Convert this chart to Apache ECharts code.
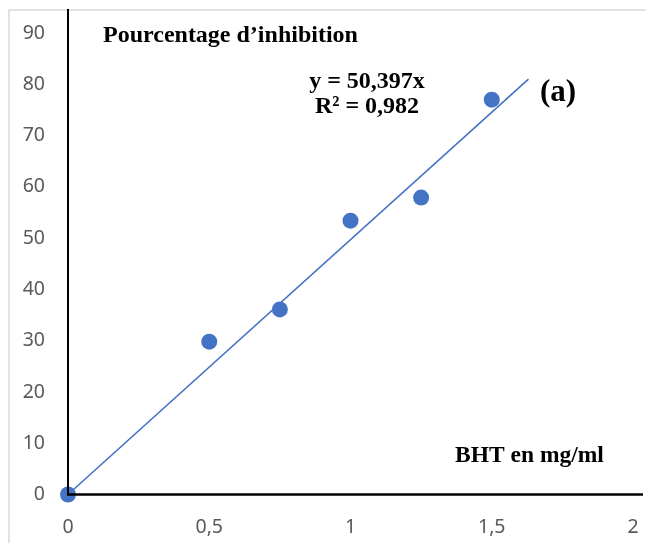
<!DOCTYPE html>
<html>
<head>
<meta charset="utf-8">
<script src="https://cdn.jsdelivr.net/npm/echarts@6/dist/echarts.min.js"></script>
<style>
  html, body { margin: 0; padding: 0; background: #fff; }
  #main { width: 646px; height: 543px; }
</style>
</head>
<body>
<div id="main"></div>
<script>
// BHT concentration (mg/ml) and inhibition percentage
var doses = [0, 0.5, 0.75, 1, 1.25, 1.5];
var inhibition = [0, 29.8, 36.1, 53.4, 57.9, 77.0];
// linear trendline y = 50,397x, drawn to the end seen in the picture
var trendDoses = [0, 1.63];
var trendValues = [0, 81.0];
var xTicks = [0, 0.5, 1, 1.5, 2];
var yTicks = [0, 10, 20, 30, 40, 50, 60, 70, 80, 90];

var myChart = echarts.init(document.getElementById('main'));
var blue = '#4472C4';
var serif = '"Liberation Serif", "Times New Roman", serif';

var option = {
  animation: false,
  grid: { left: 68, right: 13, top: 33, bottom: 48.5 },
  xAxis: {
    type: 'value',
    min: xTicks[0],
    max: xTicks[xTicks.length - 1],
    interval: 0.5,
    axisLine: { show: false },
    axisTick: { show: false },
    splitLine: { show: false },
    axisLabel: {
      margin: 23,
      color: '#595959',
      fontSize: 19.5,
      fontFamily: 'Noto Sans',
      formatter: function (v) { return String(v).replace('.', ','); }
    }
  },
  yAxis: {
    type: 'value',
    min: yTicks[0],
    max: yTicks[yTicks.length - 1],
    interval: 10,
    axisLine: { show: false },
    axisTick: { show: false },
    splitLine: { show: false },
    axisLabel: {
      margin: 23,
      color: '#595959',
      fontSize: 19.5,
      fontFamily: 'Noto Sans'
    }
  },
  series: [
    {
      name: 'Tendance',
      type: 'line',
      data: trendDoses.map(function (d, i) { return [d, trendValues[i]]; }),
      showSymbol: false,
      lineStyle: { color: blue, width: 1.6 },
      z: 2
    },
    {
      name: 'Inhibition',
      type: 'scatter',
      data: doses.map(function (d, i) { return [d, inhibition[i]]; }),
      symbolSize: 16,
      itemStyle: { color: blue, opacity: 1 },
      z: 3
    }
  ]
};
myChart.setOption(option);

var origin = myChart.convertToPixel({ gridIndex: 0 }, [0, 0]);
var x0 = origin[0], y0 = origin[1];

myChart.setOption({
  graphic: [
    {
      type: 'rect',
      shape: { x: 9, y: 10, width: 700, height: 600 },
      style: { fill: null, stroke: '#d9d9d9', lineWidth: 1.5 },
      z: 1
    },
    {
      type: 'line',
      shape: { x1: x0, y1: 9, x2: x0, y2: y0 + 1 },
      style: { stroke: '#000', lineWidth: 2 },
      z: 10
    },
    {
      type: 'line',
      shape: { x1: x0 - 1, y1: y0, x2: 643, y2: y0 },
      style: { stroke: '#000', lineWidth: 2.5 },
      z: 10
    },
    {
      type: 'text',
      x: 103, y: 36,
      style: { text: 'Pourcentage d\u2019inhibition', font: 'bold 24px ' + serif, fill: '#000', verticalAlign: 'middle' },
      z: 11
    },
    {
      type: 'text',
      x: 367, y: 94,
      style: {
        text: 'y = 50,397x\nR\u00b2 = 0,982',
        font: 'bold 24px ' + serif, fill: '#000',
        align: 'center', verticalAlign: 'middle', lineHeight: 25
      },
      z: 11
    },
    {
      type: 'text',
      x: 540, y: 93,
      style: { text: '(a)', font: 'bold 31px ' + serif, fill: '#000', verticalAlign: 'middle' },
      z: 11
    },
    {
      type: 'text',
      x: 455, y: 456,
      style: { text: 'BHT en mg/ml', font: 'bold 23.5px ' + serif, fill: '#000', verticalAlign: 'middle' },
      z: 11
    }
  ]
});
</script>
</body>
</html>
